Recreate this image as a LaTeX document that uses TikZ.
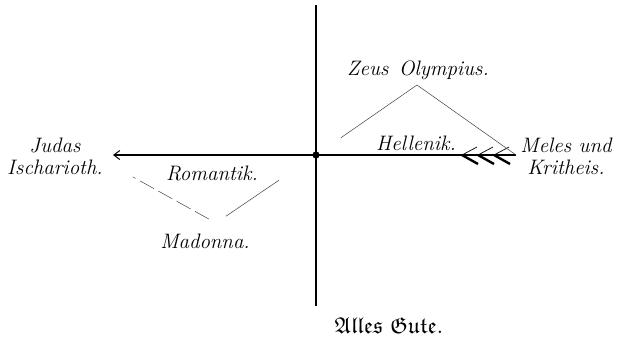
\documentclass[tikz,border=0pt]{standalone}
\usepackage{amssymb}
\usetikzlibrary{positioning, arrows.meta, calc}

\begin{document}
\begin{tikzpicture}[x=1bp, y=-1bp, >=Stealth,
    lbl/.style={font=\fontsize{21}{22}\selectfont\itshape, inner sep=0pt, align=center},
    rib/.style={line width=0.5bp, black!75},
    axis/.style={line width=2.2bp}]
      \useasboundingbox (0,0) rectangle (622,352);
      \coordinate (o) at (316,155);
      \coordinate (top) at (316,5);
      \coordinate (bot) at (316,306);
      \coordinate (w) at (113,155);
      \coordinate (e) at (516,155);
      \coordinate (mfoot) at (133,177);

      \node[lbl] (zeus) at (418,70) {Zeus\enspace Olympius.};
      \node[lbl] (hell) at (416,143) {Hellenik.};
      \node[lbl] (meles) at (566,156) {Meles und\\Kritheis.};
      \node[lbl] (judas) at (55,156) {Judas\\Ischarioth.};
      \node[lbl] (rom) at (212,173) {Romantik.};
      \node[lbl] (mad) at (205,241) {Madonna.};
      \node[font=\fontsize{23}{26}\selectfont, inner sep=0pt] (gut) at (389,326) {$\mathfrak{Alles}\ \mathfrak{Gute}.$};

      \coordinate (zapex) at ($(zeus)+(-1,15)$);
      \coordinate (mapex) at ($(mad)+(11,-18)$);

      % Achsen
      \draw[axis] (top) -- (bot);
      \draw[axis, -{Straight Barb[length=6bp, width=9bp, line width=1bp]}] (e) -- (w);
      \fill (o) circle (3.6bp);

      % Federn am Ende
      \foreach \d in {0,16,32} {
        \draw[line width=2.4bp] ($(e)+(-54+\d,0)$) -- ++(16,9);
        \draw[line width=0.7bp] ($(e)+(-54+\d,0)$) -- ++(15,-8);
      }

      % Dreiecke
      \draw[rib] (zapex) -- (e);
      \draw[rib, shorten >=30bp] (zapex) -- (o);
      \draw[rib, dash pattern=on 16bp off 5bp, shorten <=8bp] (mapex) -- (mfoot);
      \draw[rib, shorten >=45bp, shorten <=12bp] (mapex) -- (o);
    \end{tikzpicture}
\end{document}
